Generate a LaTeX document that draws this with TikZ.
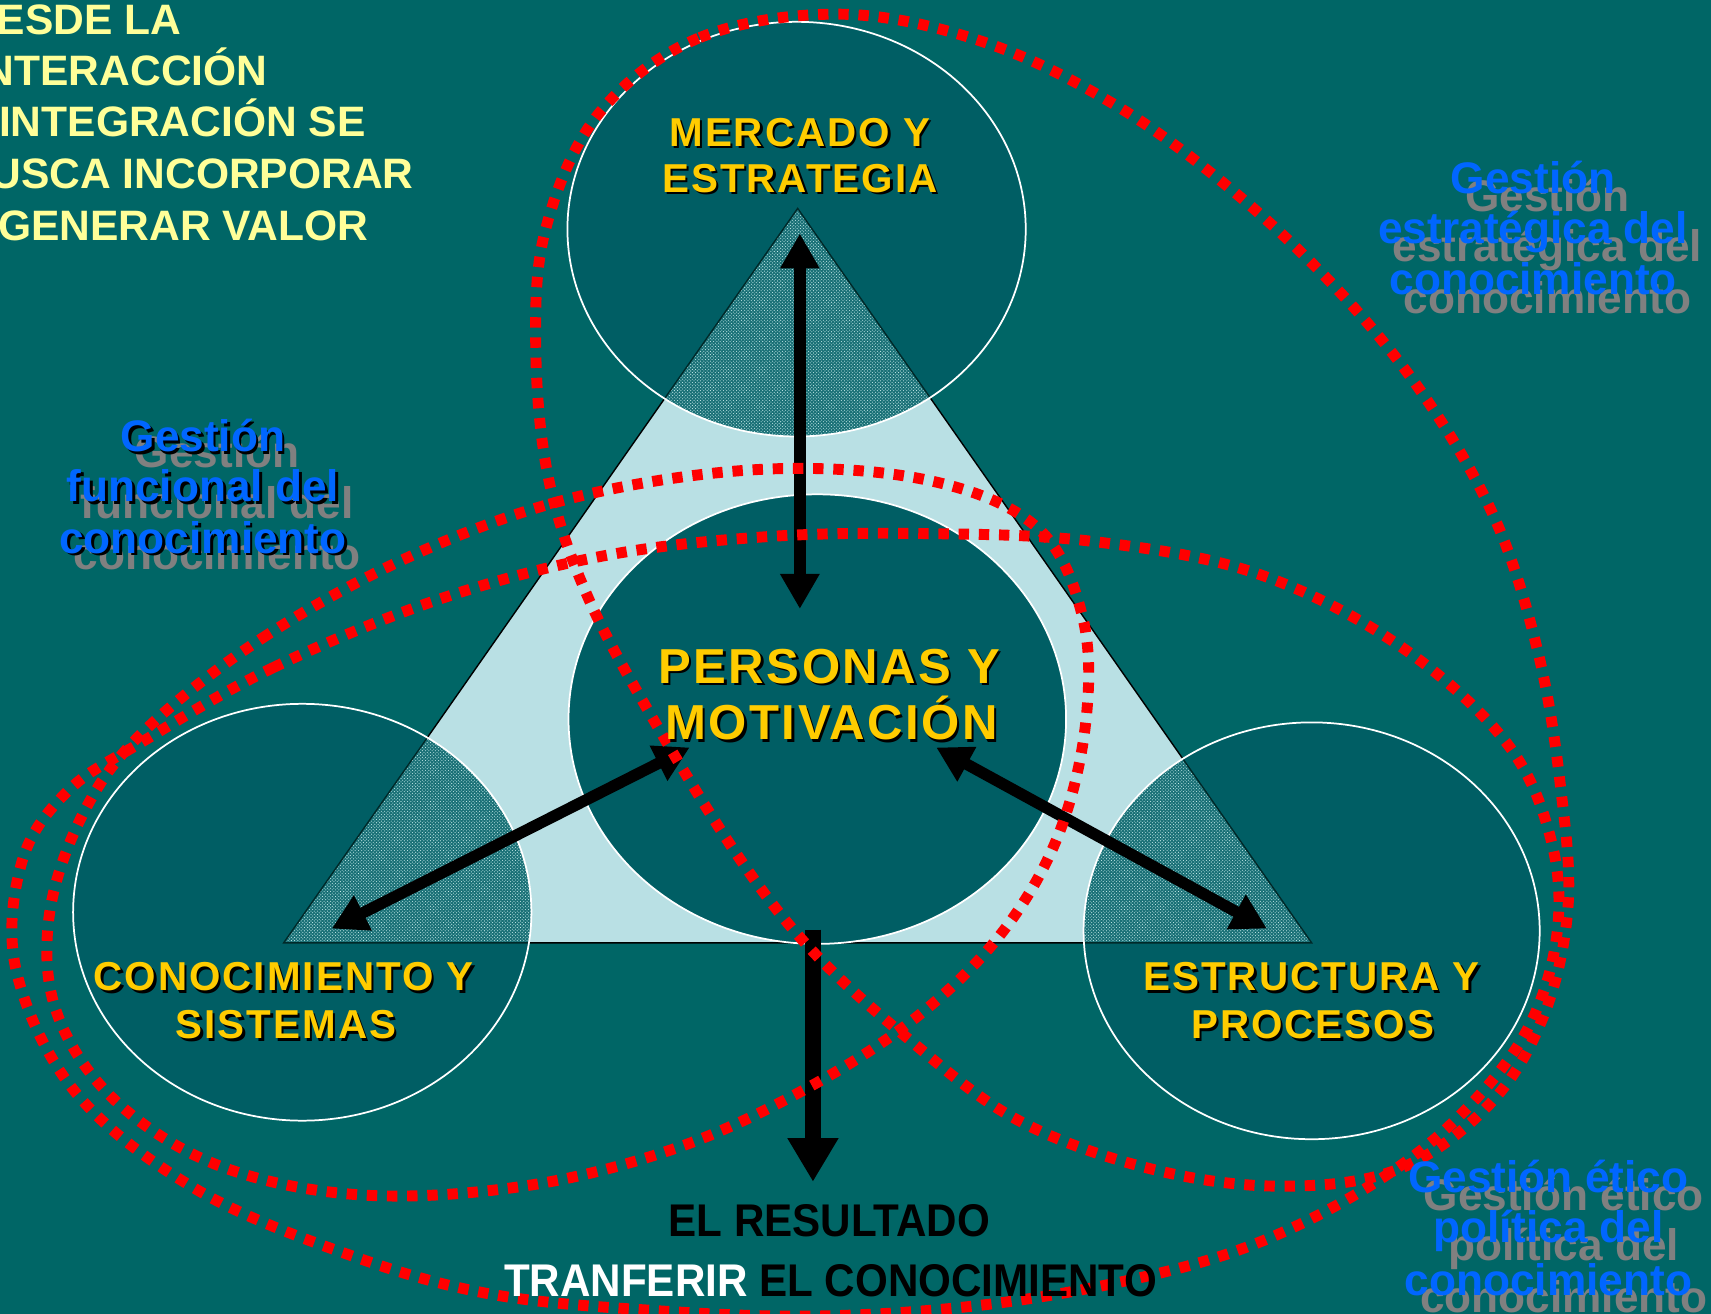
\documentclass[tikz,border=0pt]{standalone}
\usepackage{fontspec}
\setmainfont{Liberation Sans}
\newfontfamily\spacedfont[LetterSpace=5]{Liberation Sans}
\newfontfamily\spacedcfont[LetterSpace=5]{Liberation Sans}
\newfontfamily\narrowfont[FakeStretch=0.92]{Liberation Sans}
\usetikzlibrary{arrows.meta,patterns}

\definecolor{bg}{RGB}{0,102,102}
\definecolor{circ}{RGB}{0,94,100}
\definecolor{tri}{RGB}{185,224,228}
\definecolor{texbase}{RGB}{25,112,118}
\definecolor{texdot}{RGB}{200,236,236}
\definecolor{gold}{RGB}{255,204,0}
\definecolor{paleyellow}{RGB}{255,255,153}
\definecolor{gblue}{RGB}{0,102,255}
\definecolor{ggray}{RGB}{128,128,128}
\definecolor{dotred}{RGB}{255,0,0}

\newcommand{\shline}[5]{%
  \node[#4, text=black] (#1s) at (#2+2.2,#3+2.2) {#5};
  \node[#4] (#1) at (#2,#3) {#5};}
\newcommand{\ghline}[6]{%
  \node[ghost] (#1g) at (#2+#5,#3+#6) {#4};
  \node[bluelbl] (#1) at (#2,#3) {#4};}

\begin{document}
\begin{tikzpicture}[x=1pt,y=-1pt,
  circlbl/.style={anchor=base, inner sep=0pt, text=gold,
    font=\spacedfont\bfseries\fontsize{37}{42}\selectfont},
  centerlbl/.style={anchor=base, inner sep=0pt, text=gold,
    font=\spacedcfont\bfseries\fontsize{45}{52}\selectfont},
  toplbl/.style={anchor=base west, inner sep=0pt, text=paleyellow,
    font=\bfseries\fontsize{39}{47}\selectfont},
  bluelbl/.style={anchor=base, inner sep=0pt, text=gblue,
    font=\bfseries\fontsize{40.5}{47}\selectfont},
  ghost/.style={anchor=base, inner sep=0pt, text=ggray,
    font=\bfseries\fontsize{40.5}{47}\selectfont},
  bottomlbl/.style={anchor=base, inner sep=0pt, text=black,
    font=\narrowfont\bfseries\fontsize{42}{50}\selectfont},
  reddots/.style={dotred, line width=10pt, dash pattern=on 9.5pt off 9pt},
  bigarrow/.style={line width=10.5pt,
    {Triangle[length=32pt,width=34pt]}-{Triangle[length=32pt,width=34pt]}},
  downarrow/.style={line width=14.5pt, -{Triangle[length=40pt,width=44pt]}},
  ringline/.style={white, line width=1.6pt}
]
\useasboundingbox (0,0) rectangle (1568,1204);
\fill[bg] (0,0) rectangle (1568,1204);

% triangle
\coordinate (A) at (731,191);
\coordinate (B) at (260,864);
\coordinate (C) at (1202,864);
\fill[tri] (A) -- (B) -- (C) -- cycle;
\draw[line width=1.3pt, black] (A) -- (B) -- (C) -- cycle;

% outer circles with textured overlap
\foreach \cx/\cy/\rx/\ry in {730/210/210/190, 277/836/210/191, 1202/853/209/191} {
  \fill[circ] (\cx,\cy) ellipse [x radius=\rx, y radius=\ry];
  \begin{scope}
    \clip (\cx,\cy) ellipse [x radius=\rx, y radius=\ry];
    \fill[texbase] (A) -- (B) -- (C) -- cycle;
    \fill[pattern=crosshatch dots, pattern color=texdot] (A) -- (B) -- (C) -- cycle;
    \draw[line width=1.3pt, black!60!bg] (A) -- (B) -- (C) -- cycle;
  \end{scope}
  \draw[ringline] (\cx,\cy) ellipse [x radius=\rx, y radius=\ry];
}

% central circle
\fill[circ] (749,659) ellipse [x radius=228, y radius=206];
\draw[ringline] (749,659) ellipse [x radius=228, y radius=206];

% arrows
\coordinate (topTip) at (733,214);
\coordinate (midTip) at (733,558);
\coordinate (leftInner) at (632,685);
\coordinate (leftOuter) at (304,851);
\coordinate (rightInner) at (858,685);
\coordinate (rightOuter) at (1161,851);
\coordinate (downStart) at (745,852);
\coordinate (downTip) at (745,1083);
\draw[bigarrow] (topTip) -- (midTip);
\draw[bigarrow] (leftInner) -- (leftOuter);
\draw[bigarrow] (rightInner) -- (rightOuter);
\draw[downarrow] (downStart) -- (downTip);

% red dotted loops
\draw[reddots] plot[smooth cycle, tension=0.6] coordinates {
  (770,13) (640,35) (548,105) (500,210) (491,320) (503,440) (540,550)
  (605,670) (680,790) (745,872) (830,950) (930,1025) (1050,1070)
  (1170,1087) (1280,1072) (1365,1012) (1415,930) (1437,830) (1430,720)
  (1410,600) (1372,480) (1310,370) (1230,270) (1130,175) (1020,95) (900,38)};
\draw[reddots] plot[smooth cycle, tension=0.6] coordinates {
  (130,672) (240,585) (380,508) (530,455) (700,430) (850,440) (950,483)
  (992,565) (995,662) (970,765) (918,855) (840,932) (740,997) (620,1052)
  (480,1087) (330,1095) (200,1068) (105,1008) (52,928) (45,840) (75,748)};
\draw[reddots] plot[smooth cycle, tension=0.6] coordinates {
  (130,680) (250,612) (400,550) (550,510) (700,492) (850,489) (1000,496)
  (1150,525) (1280,590) (1380,680) (1422,772) (1426,862) (1396,950)
  (1330,1030) (1250,1090) (1150,1140) (1040,1172) (900,1196) (750,1206)
  (600,1201) (450,1186) (320,1150) (180,1090) (70,1002) (15,890) (20,790) (62,725)};

% circle labels
\shline{mercado}{733}{134}{circlbl}{MERCADO Y}
\shline{estrategia}{733}{176}{circlbl}{ESTRATEGIA}
\shline{personas}{760}{626}{centerlbl}{PERSONAS Y}
\shline{motivacion}{762}{678}{centerlbl}{MOTIVACIÓN}
\shline{conocimiento}{260}{908}{circlbl}{CONOCIMIENTO Y}
\shline{sistemas}{262}{952}{circlbl}{SISTEMAS}
\shline{estructura}{1202}{908}{circlbl}{ESTRUCTURA Y}
\shline{procesos}{1203}{952}{circlbl}{PROCESOS}

% top-left statement
\node[toplbl] (tl1) at (-3,32) {ESDE LA};
\node[toplbl] (tl2) at (-15,78) {NTERACCIÓN};
\node[toplbl] (tl3) at (-1,125) {INTEGRACIÓN SE};
\node[toplbl] (tl4) at (-9,173) {USCA INCORPORAR};
\node[toplbl] (tl5) at (-2,220) {GENERAR VALOR};

% Gestión labels (gray ghost + blue)
\node[ghost] (f1g) at (199,428) {Gestión};
\node[ghost] (f2g) at (199,475) {funcional del};
\node[ghost] (f3g) at (199,522) {conocimiento};
\node[bluelbl, text=black] (f1s) at (188.5,416.5) {Gestión};
\node[bluelbl, text=black] (f2s) at (188.5,462.5) {funcional del};
\node[bluelbl, text=black] (f3s) at (188.5,509.5) {conocimiento};
\node[bluelbl] (f1) at (186,414) {Gestión};
\node[bluelbl] (f2) at (186,460) {funcional del};
\node[bluelbl] (f3) at (186,507) {conocimiento};

\ghline{e1}{1405}{177}{Gestión}{13}{17}
\ghline{e2}{1405}{223}{estratégica del}{13}{17}
\ghline{e3}{1405}{270}{conocimiento}{13}{17}

\ghline{p1}{1419}{1093}{Gestión ético}{14}{16}
\ghline{p2}{1419}{1139}{política del}{14}{16}
\ghline{p3}{1419}{1187}{conocimiento}{14}{16}

% bottom result
\node[bottomlbl] (resultado) at (760,1133) {EL RESULTADO};
\node[bottomlbl] (transferir) at (761,1188) {\textcolor{white}{TRANFERIR} EL CONOCIMIENTO};
\end{tikzpicture}
\end{document}
